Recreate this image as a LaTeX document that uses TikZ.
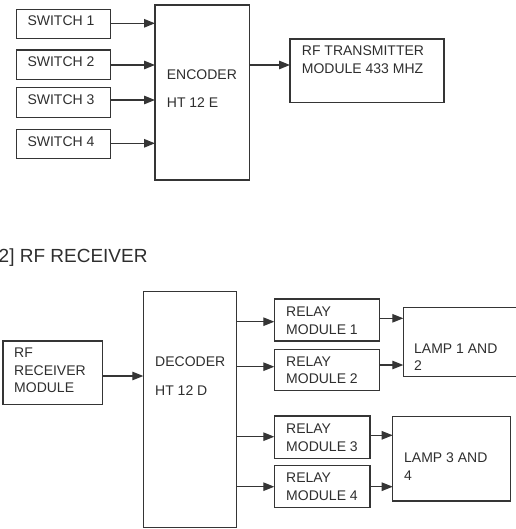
\documentclass[tikz,border=0pt]{standalone}
\usepackage{fontspec}
\setmainfont{Liberation Sans}
\usetikzlibrary{arrows.meta}
\definecolor{ink}{HTML}{353535}
\definecolor{txt}{HTML}{2E2E2E}
\tikzset{
  box/.style={draw=ink, line width=1.3pt, inner sep=0pt, outer sep=0pt, anchor=north west, fill=none},
  lbl/.style={anchor=base west, inner sep=0pt, text=txt, font=\fontsize{14}{17}\selectfont},
  ttl/.style={anchor=base west, inner sep=0pt, text=txt, font=\fontsize{19}{22}\selectfont},
  arr/.style={draw=ink, line width=1.2pt, -{Triangle[length=11pt,width=8.5pt]}}
}
\begin{document}
\begin{tikzpicture}[x=1pt, y=-1pt]
\useasboundingbox (0,0) rectangle (515,529);

% ---------- transmitter side ----------
\node[box, minimum width=94pt, minimum height=29.4pt] (sw1) at (16.7,9.3) {};
\node[box, minimum width=94pt, minimum height=29.3pt] (sw2) at (16.7,50) {};
\node[box, minimum width=94pt, minimum height=30pt]   (sw3) at (16.7,87.3) {};
\node[box, minimum width=94pt, minimum height=29.4pt] (sw4) at (16.7,129.3) {};
\node[box, minimum width=94.3pt, minimum height=175pt] (enc) at (155,5) {};
\node[box, minimum width=154pt, minimum height=63.7pt] (tx) at (290,39) {};

\node[lbl] (t-sw1) at (27.3,26)    {SWITCH 1};
\node[lbl] (t-sw2) at (27.3,66.7)  {SWITCH 2};
\node[lbl] (t-sw3) at (27.3,104.3) {SWITCH 3};
\node[lbl] (t-sw4) at (27.3,146.5) {SWITCH 4};
\node[lbl] (t-enc1) at (166.7,80)  {ENCODER};
\node[lbl] (t-enc2) at (166.7,108) {HT 12 E};
\node[lbl] (t-tx1) at (301.7,55.7) {RF TRANSMITTER};
\node[lbl] (t-tx2) at (301.7,73.3) {MODULE 433 MHZ};

\coordinate (ya) at (0,23.3);
\coordinate (yb) at (0,65);
\coordinate (yc) at (0,100);
\coordinate (yd) at (0,143.3);
\draw[arr] (sw1.east |- ya) -- (enc.west |- ya);
\draw[arr] (sw2.east |- yb) -- (enc.west |- yb);
\draw[arr] (sw3.east |- yc) -- (enc.west |- yc);
\draw[arr] (sw4.east |- yd) -- (enc.west |- yd);
\draw[arr] (enc.east |- yb) -- (tx.west |- yb);

% ---------- receiver side ----------
\node[ttl] (title) at (-1.5,262) {2] RF RECEIVER};

\node[box, minimum width=99.3pt, minimum height=63.7pt] (rx)  at (3,341) {};
\node[box, minimum width=93.4pt, minimum height=236pt]  (dec) at (143.3,291.7) {};
\node[box, minimum width=105pt,  minimum height=42pt]   (r1)  at (274.3,299) {};
\node[box, minimum width=105pt,  minimum height=41.4pt] (r2)  at (274.3,349.3) {};
\node[box, minimum width=95.7pt, minimum height=42.3pt] (r3)  at (274.3,416) {};
\node[box, minimum width=95.7pt, minimum height=42.4pt] (r4)  at (274.3,465.3) {};
% the right side of this box runs past the sheet edge
\node[box, minimum width=130pt,  minimum height=68.8pt] (l12) at (403.3,307.4) {};
\node[box, minimum width=118pt,  minimum height=84.3pt] (l34) at (392.7,416.7) {};

\node[lbl] (t-rx1) at (14,357.7)  {RF};
\node[lbl] (t-rx2) at (14,375)    {RECEIVER};
\node[lbl] (t-rx3) at (14,392.3)  {MODULE};
\node[lbl] (t-dec1) at (155,366.5) {DECODER};
\node[lbl] (t-dec2) at (155,395)   {HT 12 D};
\node[lbl] (t-r1a) at (286,316.7) {RELAY};
\node[lbl] (t-r1b) at (286,334)   {MODULE 1};
\node[lbl] (t-r2a) at (286,366)   {RELAY};
\node[lbl] (t-r2b) at (286,383.3) {MODULE 2};
\node[lbl] (t-r3a) at (286,433.3) {RELAY};
\node[lbl] (t-r3b) at (286,451)   {MODULE 3};
\node[lbl] (t-r4a) at (286,482.7) {RELAY};
\node[lbl] (t-r4b) at (286,500)   {MODULE 4};
\node[lbl] (t-l12a) at (414,353.3) {LAMP 1 AND};
\node[lbl] (t-l12b) at (414,370.7) {2};
\node[lbl] (t-l34a) at (404,462.7) {LAMP 3 AND};
\node[lbl] (t-l34b) at (404,480)   {4};

\coordinate (ye) at (0,376);
\coordinate (o1) at (0,321.7);
\coordinate (o2) at (0,366.7);
\coordinate (o3) at (0,436.7);
\coordinate (o4) at (0,486.7);
\coordinate (p1) at (0,318.3);
\coordinate (p2) at (0,365);
\coordinate (p3) at (0,435.3);
\coordinate (p4) at (0,486.7);

\draw[arr] (rx.east |- ye) -- (dec.west |- ye);
\draw[arr] (dec.east |- o1) -- (r1.west |- o1);
\draw[arr] (dec.east |- o2) -- (r2.west |- o2);
\draw[arr] (dec.east |- o3) -- (r3.west |- o3);
\draw[arr] (dec.east |- o4) -- (r4.west |- o4);
\draw[arr] (r1.east |- p1) -- (l12.west |- p1);
\draw[arr] (r2.east |- p2) -- (l12.west |- p2);
\draw[arr] (r3.east |- p3) -- (l34.west |- p3);
\draw[arr] (r4.east |- p4) -- (l34.west |- p4);
\end{tikzpicture}
\end{document}
